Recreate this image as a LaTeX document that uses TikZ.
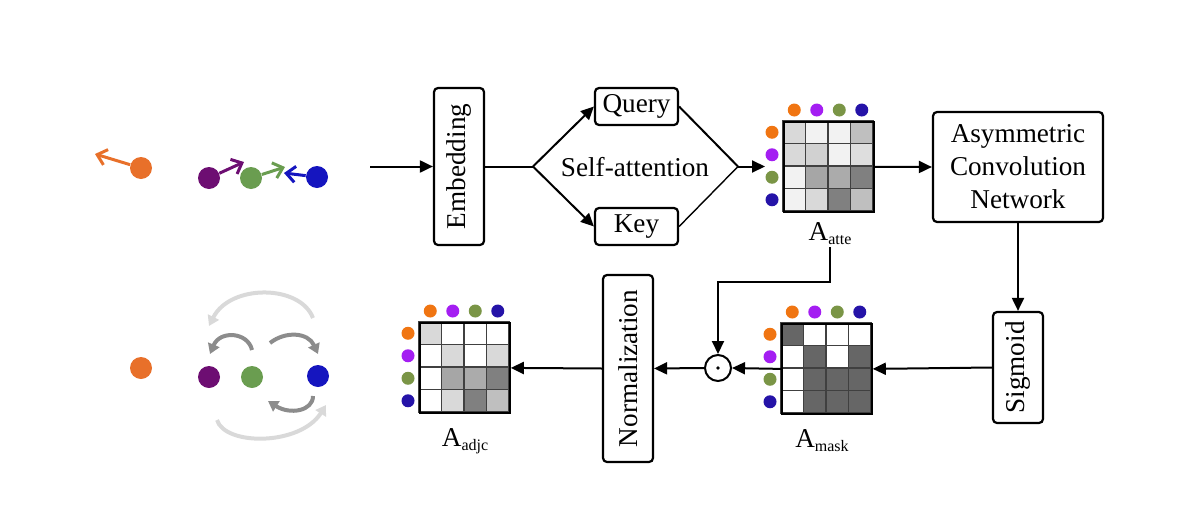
\documentclass[tikz,border=0pt]{standalone}
\usepackage{fontspec}
\setmainfont{Liberation Serif}
\usetikzlibrary{arrows.meta}
\definecolor{corange}{HTML}{E8702A}
\definecolor{cpurple}{HTML}{6D0E72}
\definecolor{cgreen}{HTML}{6A9D50}
\definecolor{cblue}{HTML}{1515BF}
\definecolor{morange}{HTML}{F07512}
\definecolor{mpurple}{HTML}{A41EF2}
\definecolor{mgreen}{HTML}{7A9546}
\definecolor{mblue}{HTML}{2513A8}
\definecolor{lgray}{HTML}{D9D9D9}
\definecolor{dgray}{HTML}{8C8C8C}
\newcommand\mymatrix[4]{%
  \foreach \v [count=\k from 0] in {#4} {
    \pgfmathtruncatemacro\rr{div(\k,4)}
    \pgfmathtruncatemacro\cc{mod(\k,4)}
    \filldraw[fill=black!\v, draw=black!75, line width=0.6pt] ({#2+22.5*\cc},{#3+22.5*\rr}) rectangle ++(22.5,22.5);
  }
  \node[draw, line width=0.9pt, inner sep=0pt, minimum width=45pt, minimum height=45pt, anchor=north west] (#1) at (#2,#3) {};
  \foreach \col [count=\k from 0] in {morange,mpurple,mgreen,mblue} {
    \node[mdot, fill=\col] at ({#2+11.25+22.5*\k},{#3-11}) {};
    \node[mdot, fill=\col] at ({#2-11},{#3+11.25+22.5*\k}) {};
  }
}
\begin{document}
\begin{tikzpicture}[x=0.5pt,y=-0.5pt,
  font=\fontsize{13.6}{16.5}\selectfont,
  box/.style={draw, line width=1.1pt, rounded corners=2pt, inner sep=0pt, align=center},
  arr/.style={line width=1pt, -{Triangle[length=6.5pt,width=6pt]}},
  conn/.style={line width=1pt},
  bigdot/.style={circle, inner sep=0pt, minimum size=11pt},
  mdot/.style={circle, inner sep=0pt, minimum size=6.5pt},
  barb/.style={line width=1.5pt, -{Straight Barb[length=4.5pt,width=8pt]}},
  lgarr/.style={draw=lgray, line width=2pt, -{Triangle[length=5pt,width=6pt]}},
  dgarr/.style={draw=dgray, line width=2pt, -{Triangle[length=5pt,width=6pt]}},
  lbl/.style={inner sep=1pt}
]
\useasboundingbox (0,0) rectangle (1200,504);

% top-left scene
\node[bigdot, fill=corange] (o1) at (141,168) {};
\node[bigdot, fill=cpurple] (p1) at (209,178) {};
\node[bigdot, fill=cgreen] (g1) at (251,178) {};
\node[bigdot, fill=cblue] (b1) at (317,177) {};
\coordinate (o1t) at (95,154);
\coordinate (p1t) at (244,162);
\coordinate (g1t) at (285,167);
\coordinate (b1t) at (284,173);
\draw[barb, corange] (o1) -- (o1t);
\draw[barb, cpurple] (p1) -- (p1t);
\draw[barb, cgreen] (g1) -- (g1t);
\draw[barb, cblue] (b1) -- (b1t);

% bottom-left scene
\node[bigdot, fill=corange] (o2) at (141,368) {};
\node[bigdot, fill=cpurple] (p2) at (209,377) {};
\node[bigdot, fill=cgreen] (g2) at (252,377) {};
\node[bigdot, fill=cblue] (b2) at (318,376) {};
\draw[lgarr] (313,318) .. controls (300,284) and (230,284) .. (209,326);
\draw[dgarr] (252,350) .. controls (248,332) and (220,330) .. (210,354);
\draw[dgarr] (270,343) .. controls (285,331) and (308,332) .. (318,354);
\draw[dgarr] (313,396) .. controls (313,411) and (290,415) .. (268,401);
\draw[lgarr] (217,420) .. controls (225,446) and (300,446) .. (326,405);

% top row
\coordinate (in) at (370,166.5);
\node[box, minimum width=25pt, minimum height=78.5pt] (emb) at (459,166.5) {\rotatebox{90}{Embedding}};
\node[box, minimum width=41.5pt, minimum height=18.5pt] (query) at (636.5,106.5) {Query};
\node[box, minimum width=41.5pt, minimum height=18.5pt] (key) at (636.5,226.5) {Key};
\node (sa) at (635,167) {Self-attention};
\coordinate (dl) at (533,166.5);
\coordinate (dr) at (738,166.5);
\coordinate (attin) at (765,166.5);
\draw[arr] (in) -- (emb.west);
\draw[conn] (emb.east) -- (dl);
\draw[arr] (dl) -- (query.west);
\draw[arr] (dl) -- (key.west);
\draw[conn] (query.east) -- (dr);
\draw[line width=0.7pt] (key.east) -- (dr);
\draw[arr] (dr) -- (attin);

\mymatrix{atte}{783}{121}{15,5,5,25, 15,18,5,13, 5,35,33,50, 5,15,50,25}
\node[lbl] (latte) at (830,234) {A\raisebox{-2pt}{\fontsize{8}{8}\selectfont atte}};

\node[box, minimum width=85pt, minimum height=55pt] (acn) at (1018,167) {Asymmetric\\Convolution\\Network};
\draw[arr] (atte.east) -- (acn.west);
\node[box, minimum width=25pt, minimum height=55.5pt] (sig) at (1018,367.5) {\rotatebox{90}{Sigmoid}};
\draw[arr] (acn.south) -- (sig.north);

% bottom row
\mymatrix{mask}{781}{323}{60,0,0,0, 0,60,0,60, 0,60,60,60, 0,60,60,60}
\node[lbl] (lmask) at (822,441) {A\raisebox{-2pt}{\fontsize{8}{8}\selectfont mask}};
\draw[arr] (sig.west) -- (mask.east);

\node[circle, draw, line width=1pt, minimum size=13pt, inner sep=0pt] (odot) at (718,368) {};
\fill (odot.center) circle (0.9pt);
\draw[arr] (mask.west) -- (odot.east);
\coordinate (c1) at (718,282);
\draw[arr] (latte.south) |- (c1) -- (odot.north);

\node[box, minimum width=25pt, minimum height=93.5pt] (norm) at (628,368.5) {\rotatebox{90}{Normalization}};
\draw[arr] (odot.west) -- (norm.east);

\mymatrix{adjc}{419}{322}{15,0,0,0, 0,15,0,15, 0,35,33,50, 0,15,50,25}
\node[lbl] (ladjc) at (465,441) {A\raisebox{-2pt}{\fontsize{8}{8}\selectfont adjc}};
\draw[arr] (norm.west) -- (adjc.east);
\end{tikzpicture}
\end{document}
